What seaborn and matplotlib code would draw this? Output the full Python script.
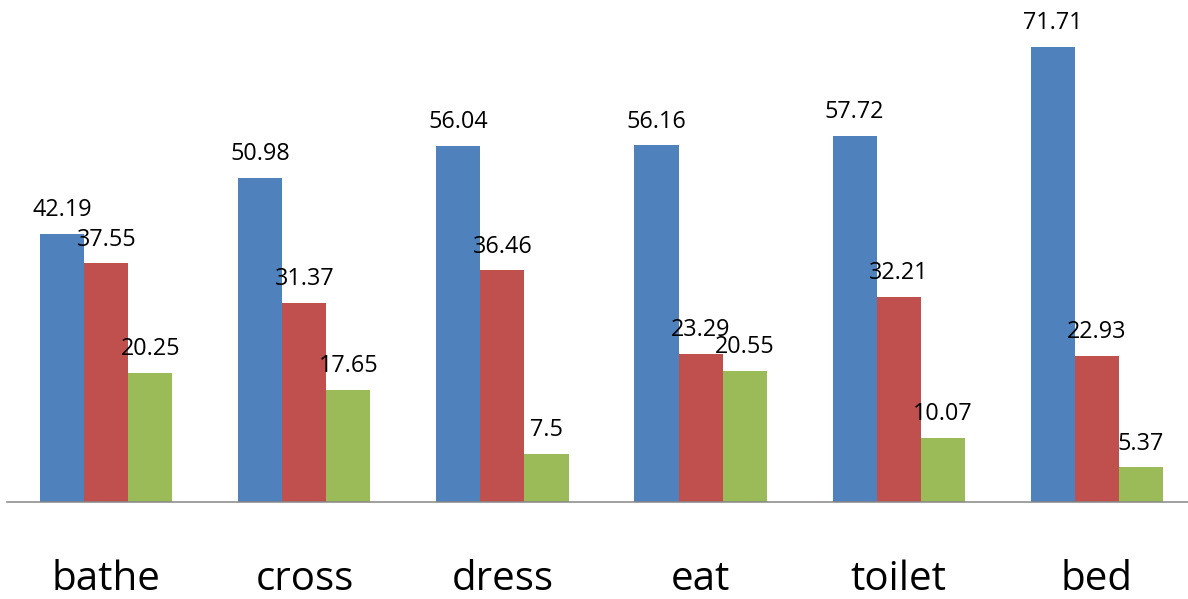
import matplotlib
matplotlib.use("Agg")
import matplotlib.pyplot as plt
import seaborn as sns
import pandas as pd

categories = ["bathe", "cross", "dress", "eat", "toilet", "bed"]
series_a = [42.19, 50.98, 56.04, 56.16, 57.72, 71.71]
series_b = [37.55, 31.37, 36.46, 23.29, 32.21, 22.93]
series_c = [20.25, 17.65, 7.5, 20.55, 10.07, 5.37]
series_names = ["A", "B", "C"]
colors = ["#4F81BD", "#C0504D", "#9BBB59"]

rows = []
for name, vals in zip(series_names, [series_a, series_b, series_c]):
    for c, v in zip(categories, vals):
        rows.append({"category": c, "series": name, "value": v})
df = pd.DataFrame(rows)

sns.set_style("white")
plt.rcParams["font.family"] = ["Open Sans", "DejaVu Sans"]

fig = plt.figure(figsize=(11.88, 5.99), dpi=100)
H = 599.0
W = 1188.0
ax_bottom_px = 501.5
ax = fig.add_axes([7.4 / W, (H - ax_bottom_px) / H, 1188.2 / W, ax_bottom_px / H])

sns.barplot(data=df, x="category", y="value", hue="series", order=categories,
            hue_order=series_names, palette=colors, width=0.667, gap=0,
            saturation=1, linewidth=0, legend=False, ax=ax)

for cont in ax.containers:
    ax.bar_label(cont, labels=[f"{v:g}" for v in cont.datavalues],
                 padding=8.5, fontsize=16.8, color="#000000")

ax.set_xlim(-0.5, 5.5)
ax.set_ylim(0, 79.1)
ax.set_xlabel("")
ax.set_ylabel("")
ax.set_yticks([])
ax.tick_params(axis="x", length=0, pad=41.5, labelsize=29, labelcolor="#000000")
for s in ["top", "left", "right"]:
    ax.spines[s].set_visible(False)
ax.spines["bottom"].set_color("#868686")
ax.spines["bottom"].set_linewidth(1.1)

fig.savefig("out.png", dpi=100)
